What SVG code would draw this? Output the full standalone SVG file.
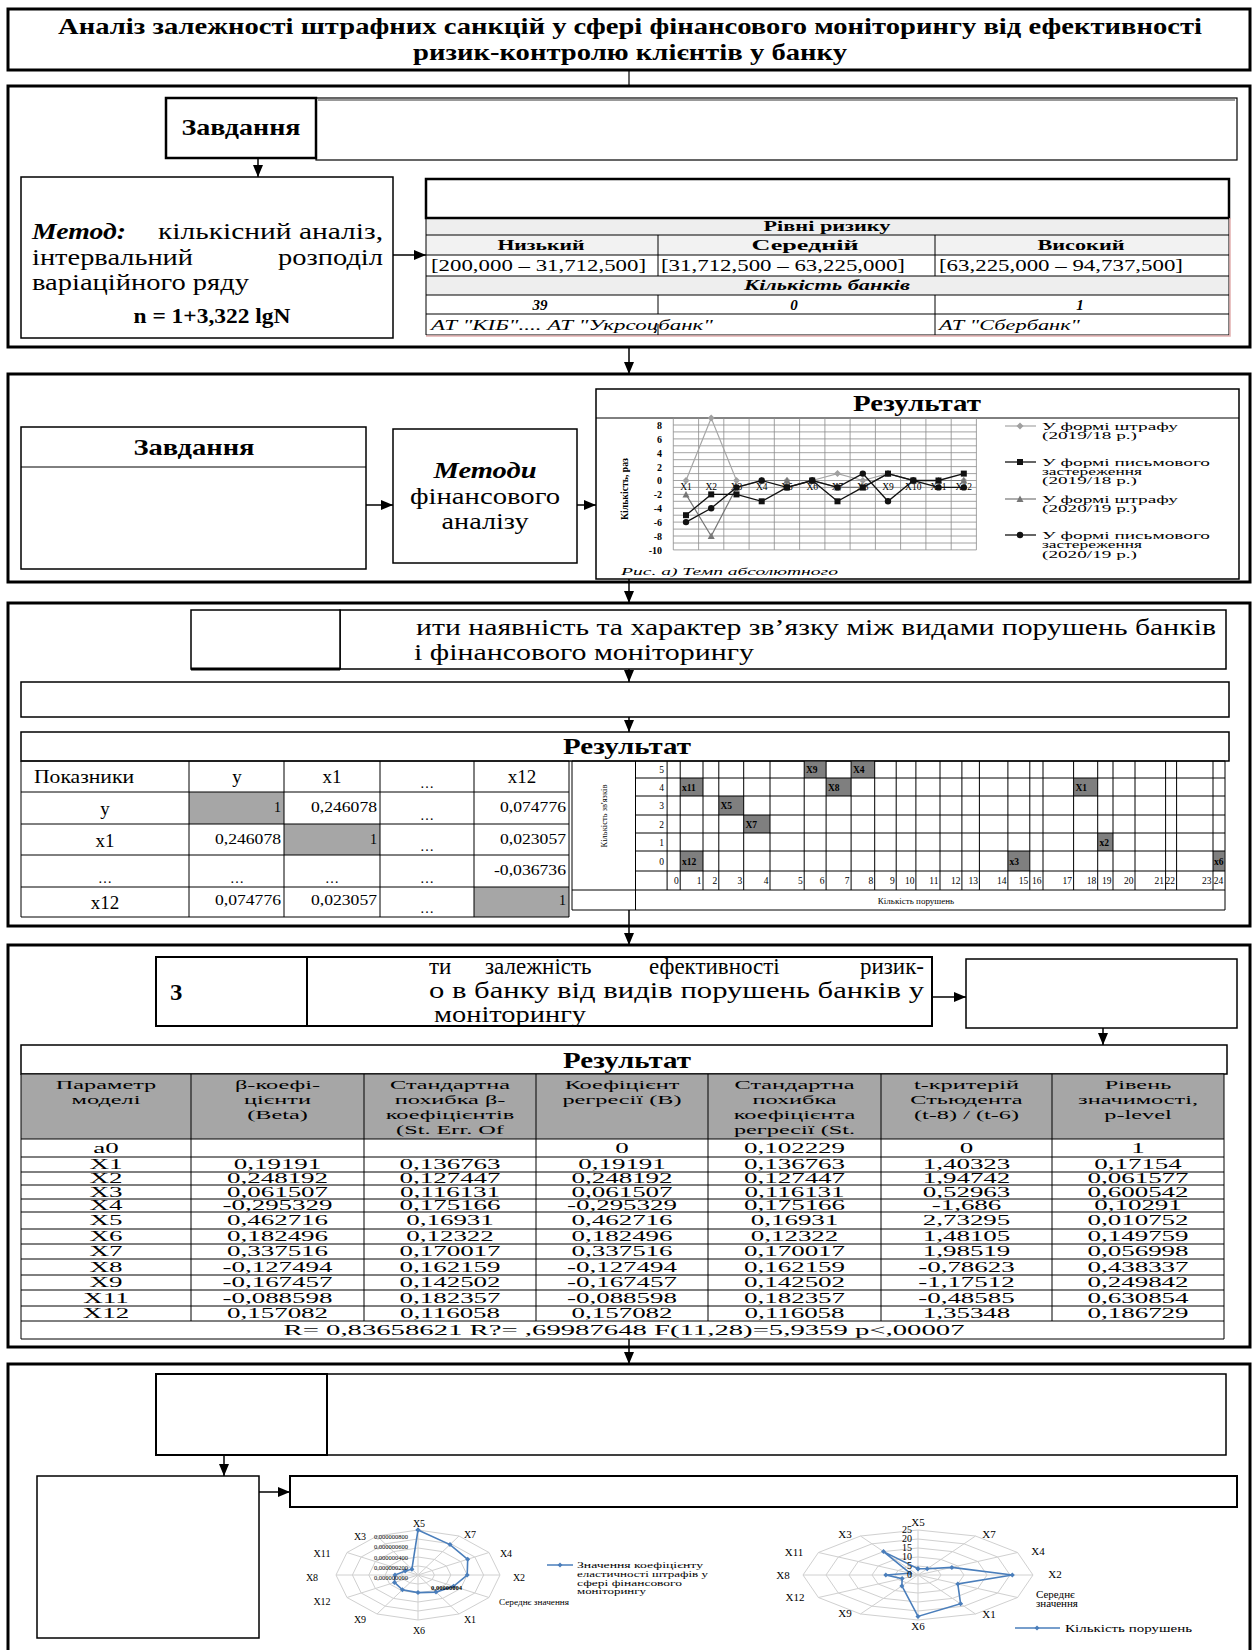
<svg xmlns="http://www.w3.org/2000/svg" width="1252" height="1650" viewBox="0 0 1252 1650">
<style>
text{font-family:"Liberation Serif","Times New Roman",serif;fill:#000}
.b{font-weight:bold}
.i{font-style:italic}
.m{text-anchor:middle}
.e{text-anchor:end}
.sa{font-family:"Liberation Sans",Arial,sans-serif}
.sec{fill:#fff;stroke:#000;stroke-width:3}
.bx{fill:#fff;stroke:#000;stroke-width:1.5}
.bx2{fill:#fff;stroke:#000;stroke-width:2.5}
.ln{fill:none;stroke:#000;stroke-width:1}
.cn{fill:none;stroke:#000;stroke-width:1.5;marker-end:url(#ah)}
.cp{fill:none;stroke:#000;stroke-width:1.2}
.gd{fill:none;stroke:#8c8c8c;stroke-width:.8}
.rg{fill:none;stroke:#d0d0d0;stroke-width:1;vector-effect:non-scaling-stroke}
.gc{fill:#7f7f7f}
.gl{fill:#a6a6a6}
.rd{fill:none;stroke:#4a7ebb;stroke-width:1.6;marker-start:url(#mB);marker-mid:url(#mB);marker-end:url(#mB)}
</style>
<defs>
<marker id="ah" viewBox="0 0 12 10" refX="12" refY="5" markerWidth="12" markerHeight="10" markerUnits="userSpaceOnUse" orient="auto"><path d="M0,0L12,5L0,10z" fill="#000"/></marker>
<marker id="mD" viewBox="-5 -5 10 10" refX="0" refY="0" markerWidth="10" markerHeight="10" markerUnits="userSpaceOnUse"><path d="M0,-3.5L3.5,0L0,3.5L-3.5,0z" fill="#a0a0a0"/></marker>
<marker id="mS" viewBox="-5 -5 10 10" refX="0" refY="0" markerWidth="10" markerHeight="10" markerUnits="userSpaceOnUse"><rect x="-3" y="-3" width="6" height="6" fill="#111"/></marker>
<marker id="mT" viewBox="-5 -5 10 10" refX="0" refY="0" markerWidth="10" markerHeight="10" markerUnits="userSpaceOnUse"><path d="M0,-3.5L3.5,3L-3.5,3z" fill="#777"/></marker>
<marker id="mC" viewBox="-5 -5 10 10" refX="0" refY="0" markerWidth="10" markerHeight="10" markerUnits="userSpaceOnUse"><circle r="3.2" fill="#111"/></marker>
<marker id="mB" viewBox="-4 -4 8 8" refX="0" refY="0" markerWidth="8" markerHeight="8" markerUnits="userSpaceOnUse"><path d="M0,-2.5L2.5,0L0,2.5L-2.5,0z" fill="#4a7ebb"/></marker>
<g id="rad">
<polygon class="rg" points="0,-1 0.5,-0.866 0.866,-0.5 1,0 0.866,0.5 0.5,0.866 0,1 -0.5,0.866 -0.866,0.5 -1,0 -0.866,-0.5 -0.5,-0.866"/>
<polygon class="rg" points="0,-0.8 0.4,-0.693 0.693,-0.4 0.8,0 0.693,0.4 0.4,0.693 0,0.8 -0.4,0.693 -0.693,0.4 -0.8,0 -0.693,-0.4 -0.4,-0.693"/>
<polygon class="rg" points="0,-0.6 0.3,-0.52 0.52,-0.3 0.6,0 0.52,0.3 0.3,0.52 0,0.6 -0.3,0.52 -0.52,0.3 -0.6,0 -0.52,-0.3 -0.3,-0.52"/>
<polygon class="rg" points="0,-0.4 0.2,-0.346 0.346,-0.2 0.4,0 0.346,0.2 0.2,0.346 0,0.4 -0.2,0.346 -0.346,0.2 -0.4,0 -0.346,-0.2 -0.2,-0.346"/>
<polygon class="rg" points="0,-0.2 0.1,-0.173 0.173,-0.1 0.2,0 0.173,0.1 0.1,0.173 0,0.2 -0.1,0.173 -0.173,0.1 -0.2,0 -0.173,-0.1 -0.1,-0.173"/>
<path class="rg" d="M0,-1V1M-1,0H1M-0.5,-0.866L0.5,0.866M0.5,-0.866L-0.5,0.866M-0.866,-0.5L0.866,0.5M0.866,-0.5L-0.866,0.5"/>
</g>
</defs>
<rect width="1252" height="1650" fill="#fff"/>

<!-- Title -->
<g id="title">
<rect class="sec" x="8" y="9" width="1242" height="61"/>
<text class="b m" x="630" y="34" font-size="23" textLength="1144" lengthAdjust="spacingAndGlyphs">Аналіз залежності штрафних санкцій у сфері фінансового моніторингу від ефективності</text>
<text class="b m" x="630" y="60" font-size="23" textLength="434" lengthAdjust="spacingAndGlyphs">ризик-контролю клієнтів у банку</text>
</g>

<!-- Section 1 -->
<g id="section1">
<rect class="sec" x="8" y="86" width="1242" height="261"/>
<g id="s1-task">
<rect x="316" y="98" width="921" height="62" fill="#fff" stroke="#000" stroke-width="1.2"/>
<line x1="318" y1="100" x2="1235" y2="100" stroke="#999" stroke-width="2"/>
<rect class="bx2" x="166" y="98" width="150" height="60"/>
<text class="b m" x="241" y="135" font-size="23" textLength="119" lengthAdjust="spacingAndGlyphs">Завдання</text>
</g>
<g id="s1-method">
<rect class="bx" x="21" y="177" width="372" height="161"/>
<text class="b i" x="32" y="239" font-size="24" textLength="94" lengthAdjust="spacingAndGlyphs">Метод:</text>
<text class="e" x="383" y="239" font-size="24" textLength="225" lengthAdjust="spacingAndGlyphs">кількісний аналіз,</text>
<text x="32" y="265" font-size="24" textLength="161" lengthAdjust="spacingAndGlyphs">інтервальний</text>
<text class="e" x="383" y="265" font-size="24" textLength="105" lengthAdjust="spacingAndGlyphs">розподіл</text>
<text x="32" y="290" font-size="24" textLength="217" lengthAdjust="spacingAndGlyphs">варіаційного ряду</text>
<text class="b m" x="212" y="323" font-size="20" textLength="157" lengthAdjust="spacingAndGlyphs">n = 1+3,322 lgN</text>
</g>
<g id="s1-table">
<rect x="426" y="218" width="803" height="17" fill="#eeeeee"/>
<rect x="426" y="235" width="803" height="20" fill="#f2f2f2"/>
<rect x="426" y="276" width="803" height="19" fill="#eeeeee"/>
<rect class="bx2" x="426" y="179" width="803" height="39"/>
<path class="ln" d="M426,218V335M1229,218V335M426,235H1229M426,255H1229M426,276H1229M426,295H1229M426,314H1229M426,335H1229M658,235V276M658,295V314M658,324V335M935,235V276M935,295V335"/>
<path d="M1230,218V336H426" fill="none" stroke="#e3b0b0" stroke-width="1.5"/>
<text class="b m" x="827" y="231" font-size="15" textLength="127" lengthAdjust="spacingAndGlyphs">Рівні ризику</text>
<text class="b m" x="541" y="250" font-size="15" textLength="87" lengthAdjust="spacingAndGlyphs">Низький</text>
<text class="b m" x="805" y="250" font-size="15" textLength="107" lengthAdjust="spacingAndGlyphs">Середній</text>
<text class="b m" x="1081" y="250" font-size="15" textLength="87" lengthAdjust="spacingAndGlyphs">Високий</text>
<text x="431" y="271" font-size="17" textLength="215" lengthAdjust="spacingAndGlyphs">[200,000 – 31,712,500]</text>
<text x="661" y="271" font-size="17" textLength="244" lengthAdjust="spacingAndGlyphs">[31,712,500 – 63,225,000]</text>
<text x="939" y="271" font-size="17" textLength="244" lengthAdjust="spacingAndGlyphs">[63,225,000 – 94,737,500]</text>
<text class="b i m" x="827" y="290" font-size="15" textLength="166" lengthAdjust="spacingAndGlyphs">Кількість банків</text>
<text class="b i m" x="540" y="310" font-size="15">39</text>
<text class="b i m" x="794" y="310" font-size="15">0</text>
<text class="b i m" x="1080" y="310" font-size="15">1</text>
<text class="i" x="431" y="330" font-size="15" textLength="282" lengthAdjust="spacingAndGlyphs">АТ "КІБ".... АТ "Укрсоцбанк"</text>
<text class="i" x="939" y="330" font-size="15" textLength="141" lengthAdjust="spacingAndGlyphs">АТ "Сбербанк"</text>
</g>
</g>

<!-- Section 2 -->
<g id="section2">
<rect class="sec" x="8" y="374" width="1242" height="208"/>
<g id="s2-task">
<rect class="bx" x="21" y="427" width="345" height="142"/>
<line class="ln" x1="21" y1="467" x2="366" y2="467" stroke-width="1.5"/>
<text class="b m" x="194" y="455" font-size="23" textLength="121" lengthAdjust="spacingAndGlyphs">Завдання</text>
</g>
<g id="s2-methods">
<rect class="bx" x="393" y="429" width="184" height="134"/>
<text class="b i m" x="485" y="478" font-size="24" textLength="103" lengthAdjust="spacingAndGlyphs">Методи</text>
<text class="m" x="485" y="504" font-size="24" textLength="150" lengthAdjust="spacingAndGlyphs">фінансового</text>
<text class="m" x="485" y="529" font-size="24" textLength="87" lengthAdjust="spacingAndGlyphs">аналізу</text>
</g>
<g id="s2-result">
<rect class="bx" x="596" y="389" width="643" height="190"/>
<line class="ln" x1="596" y1="418" x2="1239" y2="418" stroke-width="1.5"/>
<text class="b m" x="917" y="411" font-size="24" textLength="128" lengthAdjust="spacingAndGlyphs">Результат</text>
<path class="gd" d="M673.3,418H976.4M673.3,425H976.4M673.3,431.9H976.4M673.3,438.9H976.4M673.3,445.8H976.4M673.3,452.7H976.4M673.3,459.7H976.4M673.3,466.6H976.4M673.3,473.6H976.4M673.3,480.5H976.4M673.3,487.4H976.4M673.3,494.4H976.4M673.3,501.3H976.4M673.3,508.3H976.4M673.3,515.2H976.4M673.3,522.1H976.4M673.3,529.1H976.4M673.3,536H976.4M673.3,543H976.4M673.3,549.9H976.4M673.3,418V549.9M698.6,418V549.9M723.8,418V549.9M749.1,418V549.9M774.3,418V549.9M799.6,418V549.9M824.9,418V549.9M850.1,418V549.9M875.4,418V549.9M900.6,418V549.9M925.9,418V549.9M951.2,418V549.9M976.4,418V549.9"/>
<g class="sa e b" font-size="10">
<text x="662" y="428.5">8</text><text x="662" y="442.5">6</text><text x="662" y="456.5">4</text><text x="662" y="470.5">2</text><text x="662" y="484">0</text><text x="662" y="498">-2</text><text x="662" y="512">-4</text><text x="662" y="525.5">-6</text><text x="662" y="539.5">-8</text><text x="662" y="553.5">-10</text>
</g>
<g class="m" font-size="9.5">
<text x="686" y="490">X1</text><text x="711.2" y="490">X2</text><text x="736.5" y="490">X3</text><text x="761.7" y="490">X4</text><text x="787" y="490">X5</text><text x="812.2" y="490">X6</text><text x="837.5" y="490">X7</text><text x="862.8" y="490">X8</text><text x="888" y="490">X9</text><text x="913.3" y="490">X10</text><text x="938.5" y="490">X11</text><text x="963.8" y="490">X12</text>
</g>
<text class="b m" transform="translate(628 489) rotate(-90)" font-size="11" textLength="62" lengthAdjust="spacingAndGlyphs">Кількість, раз</text>
<polyline fill="none" stroke="#a6a6a6" stroke-width="1.2" marker-start="url(#mD)" marker-mid="url(#mD)" marker-end="url(#mD)" points="686,480.5 711.2,418 736.5,480.5 761.7,480.5 787,480.5 812.2,480.5 837.5,473.6 862.8,480.5 888,473.6 913.3,480.5 938.5,480.5 963.8,480.5"/>
<polyline fill="none" stroke="#777" stroke-width="1.2" marker-start="url(#mT)" marker-mid="url(#mT)" marker-end="url(#mT)" points="686,494.4 711.2,536 736.5,487.4 761.7,480.5 787,480.5 812.2,480.5 837.5,487.4 862.8,487.4 888,473.6 913.3,480.5 938.5,480.5 963.8,480.5"/>
<polyline fill="none" stroke="#111" stroke-width="1.3" marker-start="url(#mS)" marker-mid="url(#mS)" marker-end="url(#mS)" points="686,515.2 711.2,494.4 736.5,494.4 761.7,501.3 787,487.4 812.2,480.5 837.5,501.3 862.8,487.4 888,473.6 913.3,480.5 938.5,480.5 963.8,473.6"/>
<polyline fill="none" stroke="#111" stroke-width="1.3" marker-start="url(#mC)" marker-mid="url(#mC)" marker-end="url(#mC)" points="686,522.1 711.2,508.3 736.5,487.4 761.7,480.5 787,487.4 812.2,480.5 837.5,487.4 862.8,473.6 888,501.3 913.3,480.5 938.5,487.4 963.8,487.4"/>
<polyline fill="none" stroke="#a6a6a6" stroke-width="1.2" marker-mid="url(#mD)" points="1005,426 1020,426 1036,426"/>
<polyline fill="none" stroke="#111" stroke-width="1.3" marker-mid="url(#mS)" points="1005,462 1020,462 1036,462"/>
<polyline fill="none" stroke="#777" stroke-width="1.2" marker-mid="url(#mT)" points="1005,499 1020,499 1036,499"/>
<polyline fill="none" stroke="#111" stroke-width="1.3" marker-mid="url(#mC)" points="1005,535 1020,535 1036,535"/>
<g font-size="10.5">
<text x="1042" y="429.5" textLength="136" lengthAdjust="spacingAndGlyphs">У формі штрафу</text>
<text x="1042" y="438.5" textLength="95" lengthAdjust="spacingAndGlyphs">(2019/18 р.)</text>
<text x="1042" y="465.5" textLength="168" lengthAdjust="spacingAndGlyphs">У формі письмового</text>
<text x="1042" y="474.5" textLength="100" lengthAdjust="spacingAndGlyphs">застереження</text>
<text x="1042" y="483.5" textLength="95" lengthAdjust="spacingAndGlyphs">(2019/18 р.)</text>
<text x="1042" y="502.5" textLength="136" lengthAdjust="spacingAndGlyphs">У формі штрафу</text>
<text x="1042" y="511.5" textLength="95" lengthAdjust="spacingAndGlyphs">(2020/19 р.)</text>
<text x="1042" y="538.5" textLength="168" lengthAdjust="spacingAndGlyphs">У формі письмового</text>
<text x="1042" y="548" textLength="100" lengthAdjust="spacingAndGlyphs">застереження</text>
<text x="1042" y="557.5" textLength="95" lengthAdjust="spacingAndGlyphs">(2020/19 р.)</text>
</g>
<text class="i" x="621" y="575" font-size="11" textLength="217" lengthAdjust="spacingAndGlyphs">Рис. а) Темп абсолютного</text>
</g>
</g>

<!-- Section 3 -->
<g id="section3">
<rect class="sec" x="8" y="603" width="1242" height="323"/>
<g id="s3-task">
<rect class="bx" x="340" y="610" width="886" height="59"/>
<rect class="bx" x="191" y="610" width="149" height="59"/>
<line x1="191" y1="669" x2="340" y2="669" stroke="#000" stroke-width="3"/>
<text x="416" y="635" font-size="23" textLength="800" lengthAdjust="spacingAndGlyphs">ити наявність та характер зв’язку між видами порушень банків</text>
<text x="414" y="660" font-size="23" textLength="340" lengthAdjust="spacingAndGlyphs">і фінансового моніторингу</text>
</g>
<g id="s3-empty"><rect class="bx" x="21" y="682" width="1208" height="35"/></g>
<g id="s3-result">
<rect class="bx" x="21" y="732" width="1208" height="29"/>
<text class="b m" x="627" y="754" font-size="23" textLength="128" lengthAdjust="spacingAndGlyphs">Результат</text>
</g>
<g id="s3-corr">
<rect class="gl" x="189" y="792" width="95" height="32"/>
<rect class="gl" x="284" y="824" width="96" height="31"/>
<rect class="gl" x="474" y="887" width="95" height="30"/>
<path class="ln" d="M21,761H569V917H21ZM21,792H569M21,824H569M21,855H569M21,887H569M189,761V917M284,761V917M380,761V917M474,761V917"/>
<g font-size="19">
<text x="34" y="783" textLength="100" lengthAdjust="spacingAndGlyphs">Показники</text>
<text class="m" x="237" y="783">y</text>
<text class="m" x="332" y="783">x1</text>
<text class="m" x="522" y="783">x12</text>
<text class="m" x="105" y="815">y</text>
<text class="m" x="105" y="847">x1</text>
<text class="m" x="105" y="909">x12</text>
</g>
<g font-size="14" class="m">
<text x="427" y="788">…</text><text x="427" y="820">…</text><text x="427" y="851">…</text><text x="427" y="883">…</text><text x="427" y="913">…</text>
<text x="105" y="883">…</text><text x="237" y="883">…</text><text x="332" y="883">…</text>
</g>
<g font-size="14" class="e">
<text x="281" y="812">1</text>
<text x="377" y="812" textLength="66" lengthAdjust="spacingAndGlyphs">0,246078</text>
<text x="566" y="812" textLength="66" lengthAdjust="spacingAndGlyphs">0,074776</text>
<text x="281" y="844" textLength="66" lengthAdjust="spacingAndGlyphs">0,246078</text>
<text x="377" y="844">1</text>
<text x="566" y="844" textLength="66" lengthAdjust="spacingAndGlyphs">0,023057</text>
<text x="566" y="875" textLength="72" lengthAdjust="spacingAndGlyphs">-0,036736</text>
<text x="281" y="905" textLength="66" lengthAdjust="spacingAndGlyphs">0,074776</text>
<text x="377" y="905" textLength="66" lengthAdjust="spacingAndGlyphs">0,023057</text>
<text x="566" y="905">1</text>
</g>
</g>
<g id="s3-grid">
<rect class="gc" x="804.2" y="761" width="21.9" height="17"/>
<rect class="gc" x="851.1" y="761" width="23.6" height="17"/>
<rect class="gc" x="680.2" y="778" width="22.8" height="18"/>
<rect class="gc" x="826.1" y="778" width="25" height="18"/>
<rect class="gc" x="1073.6" y="778" width="24.1" height="18"/>
<rect class="gc" x="718.8" y="796" width="24.9" height="19"/>
<rect class="gc" x="743.7" y="815" width="26.3" height="18"/>
<rect class="gc" x="1097.7" y="833" width="15.3" height="18"/>
<rect class="gc" x="680.2" y="851" width="22.8" height="20"/>
<rect class="gc" x="1007.9" y="851" width="21.9" height="20"/>
<rect class="gc" x="1213" y="851" width="11.8" height="20"/>
<path class="ln" stroke-width=".8" d="M572,761H1225V910H572ZM635.5,761V910M572,890H1225M635.5,778H1225M635.5,796H1225M635.5,815H1225M635.5,833H1225M635.5,851H1225M635.5,871H1225M667.1,761V890M680.2,761V890M703,761V890M718.8,761V890M743.7,761V890M770,761V890M804.2,761V890M826.1,761V890M851.1,761V890M874.7,761V890M896.2,761V890M915.9,761V890M940,761V890M961.9,761V890M979.4,761V890M1007.9,761V890M1029.8,761V890M1043,761V890M1073.6,761V890M1097.7,761V890M1113,761V890M1135,761V890M1165.6,761V890M1176.6,761V890M1213,761V890"/>
<g class="b" font-size="9.5">
<text x="806" y="773">X9</text><text x="853" y="773">X4</text>
<text x="682" y="790.5">x11</text><text x="828" y="790.5">X8</text><text x="1075.5" y="790.5">X1</text>
<text x="720.5" y="809">X5</text><text x="745.5" y="827.5">X7</text><text x="1099.5" y="845.5">x2</text>
<text x="682" y="864.5">x12</text><text x="1009.5" y="864.5">x3</text><text x="1214" y="864.5">x6</text>
</g>
<g class="e" font-size="9.5">
<text x="664" y="773">5</text><text x="664" y="790.5">4</text><text x="664" y="809">3</text><text x="664" y="827.5">2</text><text x="664" y="845.5">1</text><text x="664" y="864.5">0</text>
<text x="678.7" y="884">0</text><text x="701.5" y="884">1</text><text x="717.3" y="884">2</text><text x="742.2" y="884">3</text><text x="768.5" y="884">4</text><text x="802.7" y="884">5</text><text x="824.6" y="884">6</text><text x="849.6" y="884">7</text><text x="873.2" y="884">8</text><text x="894.7" y="884">9</text><text x="914.4" y="884">10</text><text x="938.5" y="884">11</text><text x="960.4" y="884">12</text><text x="977.9" y="884">13</text><text x="1006.4" y="884">14</text><text x="1028.3" y="884">15</text><text x="1041.5" y="884">16</text><text x="1072.1" y="884">17</text><text x="1096.2" y="884">18</text><text x="1111.5" y="884">19</text><text x="1133.5" y="884">20</text><text x="1164.1" y="884">21</text><text x="1175.1" y="884">22</text><text x="1211.5" y="884">23</text><text x="1223.3" y="884">24</text>
</g>
<text class="m" x="916" y="904" font-size="9">Кількість порушень</text>
<text class="m" transform="translate(607 816) rotate(-90)" font-size="8.5">Кількість зв'язків</text>
</g>
</g>

<!-- Section 4 -->
<g id="section4">
<rect class="sec" x="8" y="945" width="1242" height="402"/>
<g id="s4-task">
<rect x="307" y="957" width="625" height="69" fill="#fff" stroke="#000" stroke-width="2"/>
<rect x="156" y="957" width="151" height="69" fill="#fff" stroke="#000" stroke-width="2"/>
<text class="b" x="170" y="1000" font-size="23">З</text>
<g font-size="23">
<text x="429" y="974">ти</text>
<text x="485" y="974">залежність</text>
<text x="649" y="974">ефективності</text>
<text class="e" x="924" y="974">ризик-</text>
</g>
<text x="429" y="998" font-size="23" textLength="495" lengthAdjust="spacingAndGlyphs">о в банку від видів порушень банків у</text>
<text x="434" y="1022" font-size="23" textLength="152" lengthAdjust="spacingAndGlyphs">моніторингу</text>
</g>
<g id="s4-right"><rect class="bx" x="966" y="959" width="271" height="69"/></g>
<g id="s4-result">
<rect class="bx" x="21" y="1045" width="1206" height="29"/>
<text class="b m" x="627" y="1068" font-size="23" textLength="128" lengthAdjust="spacingAndGlyphs">Результат</text>
</g>
<g id="s4-table">
<rect class="gl" x="21" y="1074" width="1203" height="65"/>
<path class="ln" d="M21,1074H1224V1339H21ZM21,1139H1224M21,1157H1224M21,1172H1224M21,1185H1224M21,1199H1224M21,1212H1224M21,1229H1224M21,1244H1224M21,1259H1224M21,1275H1224M21,1290H1224M21,1306H1224M21,1321H1224M191,1074V1321M364,1074V1321M536,1074V1321M708,1074V1321M881,1074V1321M1052,1074V1321"/>
<g transform="translate(106 0) scale(1.8 1)" class="m">
<g font-size="13.5"><text y="1089">Параметр</text><text y="1104">моделі</text></g>
<g font-size="15"><text y="1153">a0</text><text y="1169.5">X1</text><text y="1183.5">X2</text><text y="1197">X3</text><text y="1210.5">X4</text><text y="1225.5">X5</text><text y="1241.5">X6</text><text y="1256.5">X7</text><text y="1272">X8</text><text y="1287.5">X9</text><text y="1303">X11</text><text y="1318.5">X12</text></g>
</g>
<g transform="translate(277.5 0) scale(1.8 1)" class="m">
<g font-size="13.5"><text y="1089">β-коефі-</text><text y="1104">цієнти</text><text y="1119">(Beta)</text></g>
<g font-size="15"><text y="1169.5">0,19191</text><text y="1183.5">0,248192</text><text y="1197">0,061507</text><text y="1210.5">-0,295329</text><text y="1225.5">0,462716</text><text y="1241.5">0,182496</text><text y="1256.5">0,337516</text><text y="1272">-0,127494</text><text y="1287.5">-0,167457</text><text y="1303">-0,088598</text><text y="1318.5">0,157082</text></g>
</g>
<g transform="translate(450 0) scale(1.8 1)" class="m">
<g font-size="13.5"><text y="1089">Стандартна</text><text y="1104">похибка β-</text><text y="1119">коефіцієнтів</text><text y="1134">(St. Err. Of</text></g>
<g font-size="15"><text y="1169.5">0,136763</text><text y="1183.5">0,127447</text><text y="1197">0,116131</text><text y="1210.5">0,175166</text><text y="1225.5">0,16931</text><text y="1241.5">0,12322</text><text y="1256.5">0,170017</text><text y="1272">0,162159</text><text y="1287.5">0,142502</text><text y="1303">0,182357</text><text y="1318.5">0,116058</text></g>
</g>
<g transform="translate(622 0) scale(1.8 1)" class="m">
<g font-size="13.5"><text y="1089">Коефіцієнт</text><text y="1104">регресії (B)</text></g>
<g font-size="15"><text y="1153">0</text><text y="1169.5">0,19191</text><text y="1183.5">0,248192</text><text y="1197">0,061507</text><text y="1210.5">-0,295329</text><text y="1225.5">0,462716</text><text y="1241.5">0,182496</text><text y="1256.5">0,337516</text><text y="1272">-0,127494</text><text y="1287.5">-0,167457</text><text y="1303">-0,088598</text><text y="1318.5">0,157082</text></g>
</g>
<g transform="translate(794.5 0) scale(1.8 1)" class="m">
<g font-size="13.5"><text y="1089">Стандартна</text><text y="1104">похибка</text><text y="1119">коефіцієнта</text><text y="1134">регресії (St.</text></g>
<g font-size="15"><text y="1153">0,102229</text><text y="1169.5">0,136763</text><text y="1183.5">0,127447</text><text y="1197">0,116131</text><text y="1210.5">0,175166</text><text y="1225.5">0,16931</text><text y="1241.5">0,12322</text><text y="1256.5">0,170017</text><text y="1272">0,162159</text><text y="1287.5">0,142502</text><text y="1303">0,182357</text><text y="1318.5">0,116058</text></g>
</g>
<g transform="translate(966.5 0) scale(1.8 1)" class="m">
<g font-size="13.5"><text y="1089">t-критерій</text><text y="1104">Стьюдента</text><text y="1119">(t-8) / (t-6)</text></g>
<g font-size="15"><text y="1153">0</text><text y="1169.5">1,40323</text><text y="1183.5">1,94742</text><text y="1197">0,52963</text><text y="1210.5">-1,686</text><text y="1225.5">2,73295</text><text y="1241.5">1,48105</text><text y="1256.5">1,98519</text><text y="1272">-0,78623</text><text y="1287.5">-1,17512</text><text y="1303">-0,48585</text><text y="1318.5">1,35348</text></g>
</g>
<g transform="translate(1138 0) scale(1.8 1)" class="m">
<g font-size="13.5"><text y="1089">Рівень</text><text y="1104">значимості,</text><text y="1119">p-level</text></g>
<g font-size="15"><text y="1153">1</text><text y="1169.5">0,17154</text><text y="1183.5">0,061577</text><text y="1197">0,600542</text><text y="1210.5">0,10291</text><text y="1225.5">0,010752</text><text y="1241.5">0,149759</text><text y="1256.5">0,056998</text><text y="1272">0,438337</text><text y="1287.5">0,249842</text><text y="1303">0,630854</text><text y="1318.5">0,186729</text></g>
</g>
<text class="m" x="624" y="1335" font-size="15" textLength="681" lengthAdjust="spacingAndGlyphs">R= 0,83658621 R?= ,69987648  F(11,28)=5,9359 p&lt;,00007</text>
</g>
</g>

<!-- Section 5 -->
<g id="section5">
<rect class="sec" x="8" y="1364" width="1242" height="290"/>
<g id="s5-task">
<rect class="bx" x="327" y="1374" width="899" height="81"/>
<rect x="156" y="1374" width="171" height="81" fill="#fff" stroke="#000" stroke-width="2"/>
</g>
<g id="s5-left"><rect class="bx" x="37" y="1476" width="222" height="162"/></g>
<g id="s5-bar"><rect x="290" y="1476" width="947" height="31" fill="#fff" stroke="#000" stroke-width="2"/></g>
<g id="s5-radar1">
<use href="#rad" transform="translate(418 1575) scale(82 45)"/>
<polygon class="rd" points="418,1530 450,1544.6 467.7,1559.3 467.2,1575 453.5,1586.3 436,1592.1 418,1592.6 402.4,1589.8 394.5,1582.4 395,1575 405.2,1571 411.9,1569.2"/>
<g class="m" font-size="10">
<text x="419" y="1527">X5</text><text x="470" y="1538">X7</text><text x="506" y="1557">X4</text><text x="519" y="1581">X2</text><text x="470" y="1623">X1</text><text x="419" y="1634">X6</text><text x="360" y="1623">X9</text><text x="322" y="1605">X12</text><text x="312" y="1581">X8</text><text x="322" y="1557">X11</text><text x="360" y="1540">X3</text>
</g>
<text x="499" y="1605" font-size="9" textLength="70" lengthAdjust="spacingAndGlyphs">Середнє значення</text>
<g class="e" font-size="6.5">
<text x="408" y="1539">0,000000800</text><text x="408" y="1549">0,000000600</text><text x="408" y="1560">0,000000400</text><text x="408" y="1570">0,000000200</text><text x="408" y="1580">0,000000000</text>
</g>
<text class="b" x="431" y="1590" font-size="6.5">0,00000004</text>
<polyline fill="none" stroke="#4a7ebb" stroke-width="1.5" marker-mid="url(#mB)" points="547,1565 560,1565 573,1565"/>
<g font-size="8">
<text x="577" y="1568" textLength="126" lengthAdjust="spacingAndGlyphs">Значення коефіцієнту</text>
<text x="577" y="1577" textLength="131" lengthAdjust="spacingAndGlyphs">еластичності штрафів у</text>
<text x="577" y="1586" textLength="105" lengthAdjust="spacingAndGlyphs">сфері фінансового</text>
<text x="577" y="1594" textLength="69" lengthAdjust="spacingAndGlyphs">моніторингу</text>
</g>
</g>
<g id="s5-radar2">
<use href="#rad" transform="translate(918 1575) scale(115 45)"/>
<polygon class="rd" points="918,1568.7 927.2,1568.8 951.9,1567.4 1012.3,1575 957.8,1584 960.6,1603.8 918,1616.4 901.9,1585.9 902.1,1578.6 885.8,1575 910,1573.2 883.5,1551.6"/>
<g class="m" font-size="11">
<text x="918" y="1526">X5</text><text x="989" y="1538">X7</text><text x="1038" y="1555">X4</text><text x="1055" y="1578">X2</text><text x="989" y="1618">X1</text><text x="918" y="1630">X6</text><text x="845" y="1617">X9</text><text x="795" y="1601">X12</text><text x="783" y="1579">X8</text><text x="794" y="1556">X11</text><text x="845" y="1538">X3</text>
</g>
<text x="1036" y="1598" font-size="11">Середнє</text>
<text x="1036" y="1607" font-size="11">значення</text>
<g class="e" font-size="10">
<text x="912" y="1533">25</text><text x="912" y="1542">20</text><text x="912" y="1551">15</text><text x="912" y="1560">10</text><text x="912" y="1569">5</text><text x="912" y="1578">0</text>
</g>
<polyline fill="none" stroke="#4a7ebb" stroke-width="1.5" marker-mid="url(#mB)" points="1015,1628 1037,1628 1060,1628"/>
<text x="1065" y="1632" font-size="11" textLength="127" lengthAdjust="spacingAndGlyphs">Кількість порушень</text>
</g>
</g>

<!-- Connectors -->
<g id="connectors">
<path class="cp" d="M629,70V86"/>
<path class="cn" d="M258,158V177"/>
<path class="cn" d="M393,255H426"/>
<path class="cn" d="M629,347V374"/>
<path class="cn" d="M366,505H393"/>
<path class="cn" d="M577,505H596"/>
<path class="cn" d="M629,579V603"/>
<path class="cn" d="M629,669V682"/>
<path class="cn" d="M629,717V732"/>
<path class="cn" d="M629,910V945"/>
<path class="cn" d="M932,997H966"/>
<path class="cn" d="M1103,1028V1045"/>
<path class="cn" d="M629,1339V1364"/>
<path class="cn" d="M224,1455V1476"/>
<path class="cn" d="M259,1492H290"/>
</g>
</svg>
